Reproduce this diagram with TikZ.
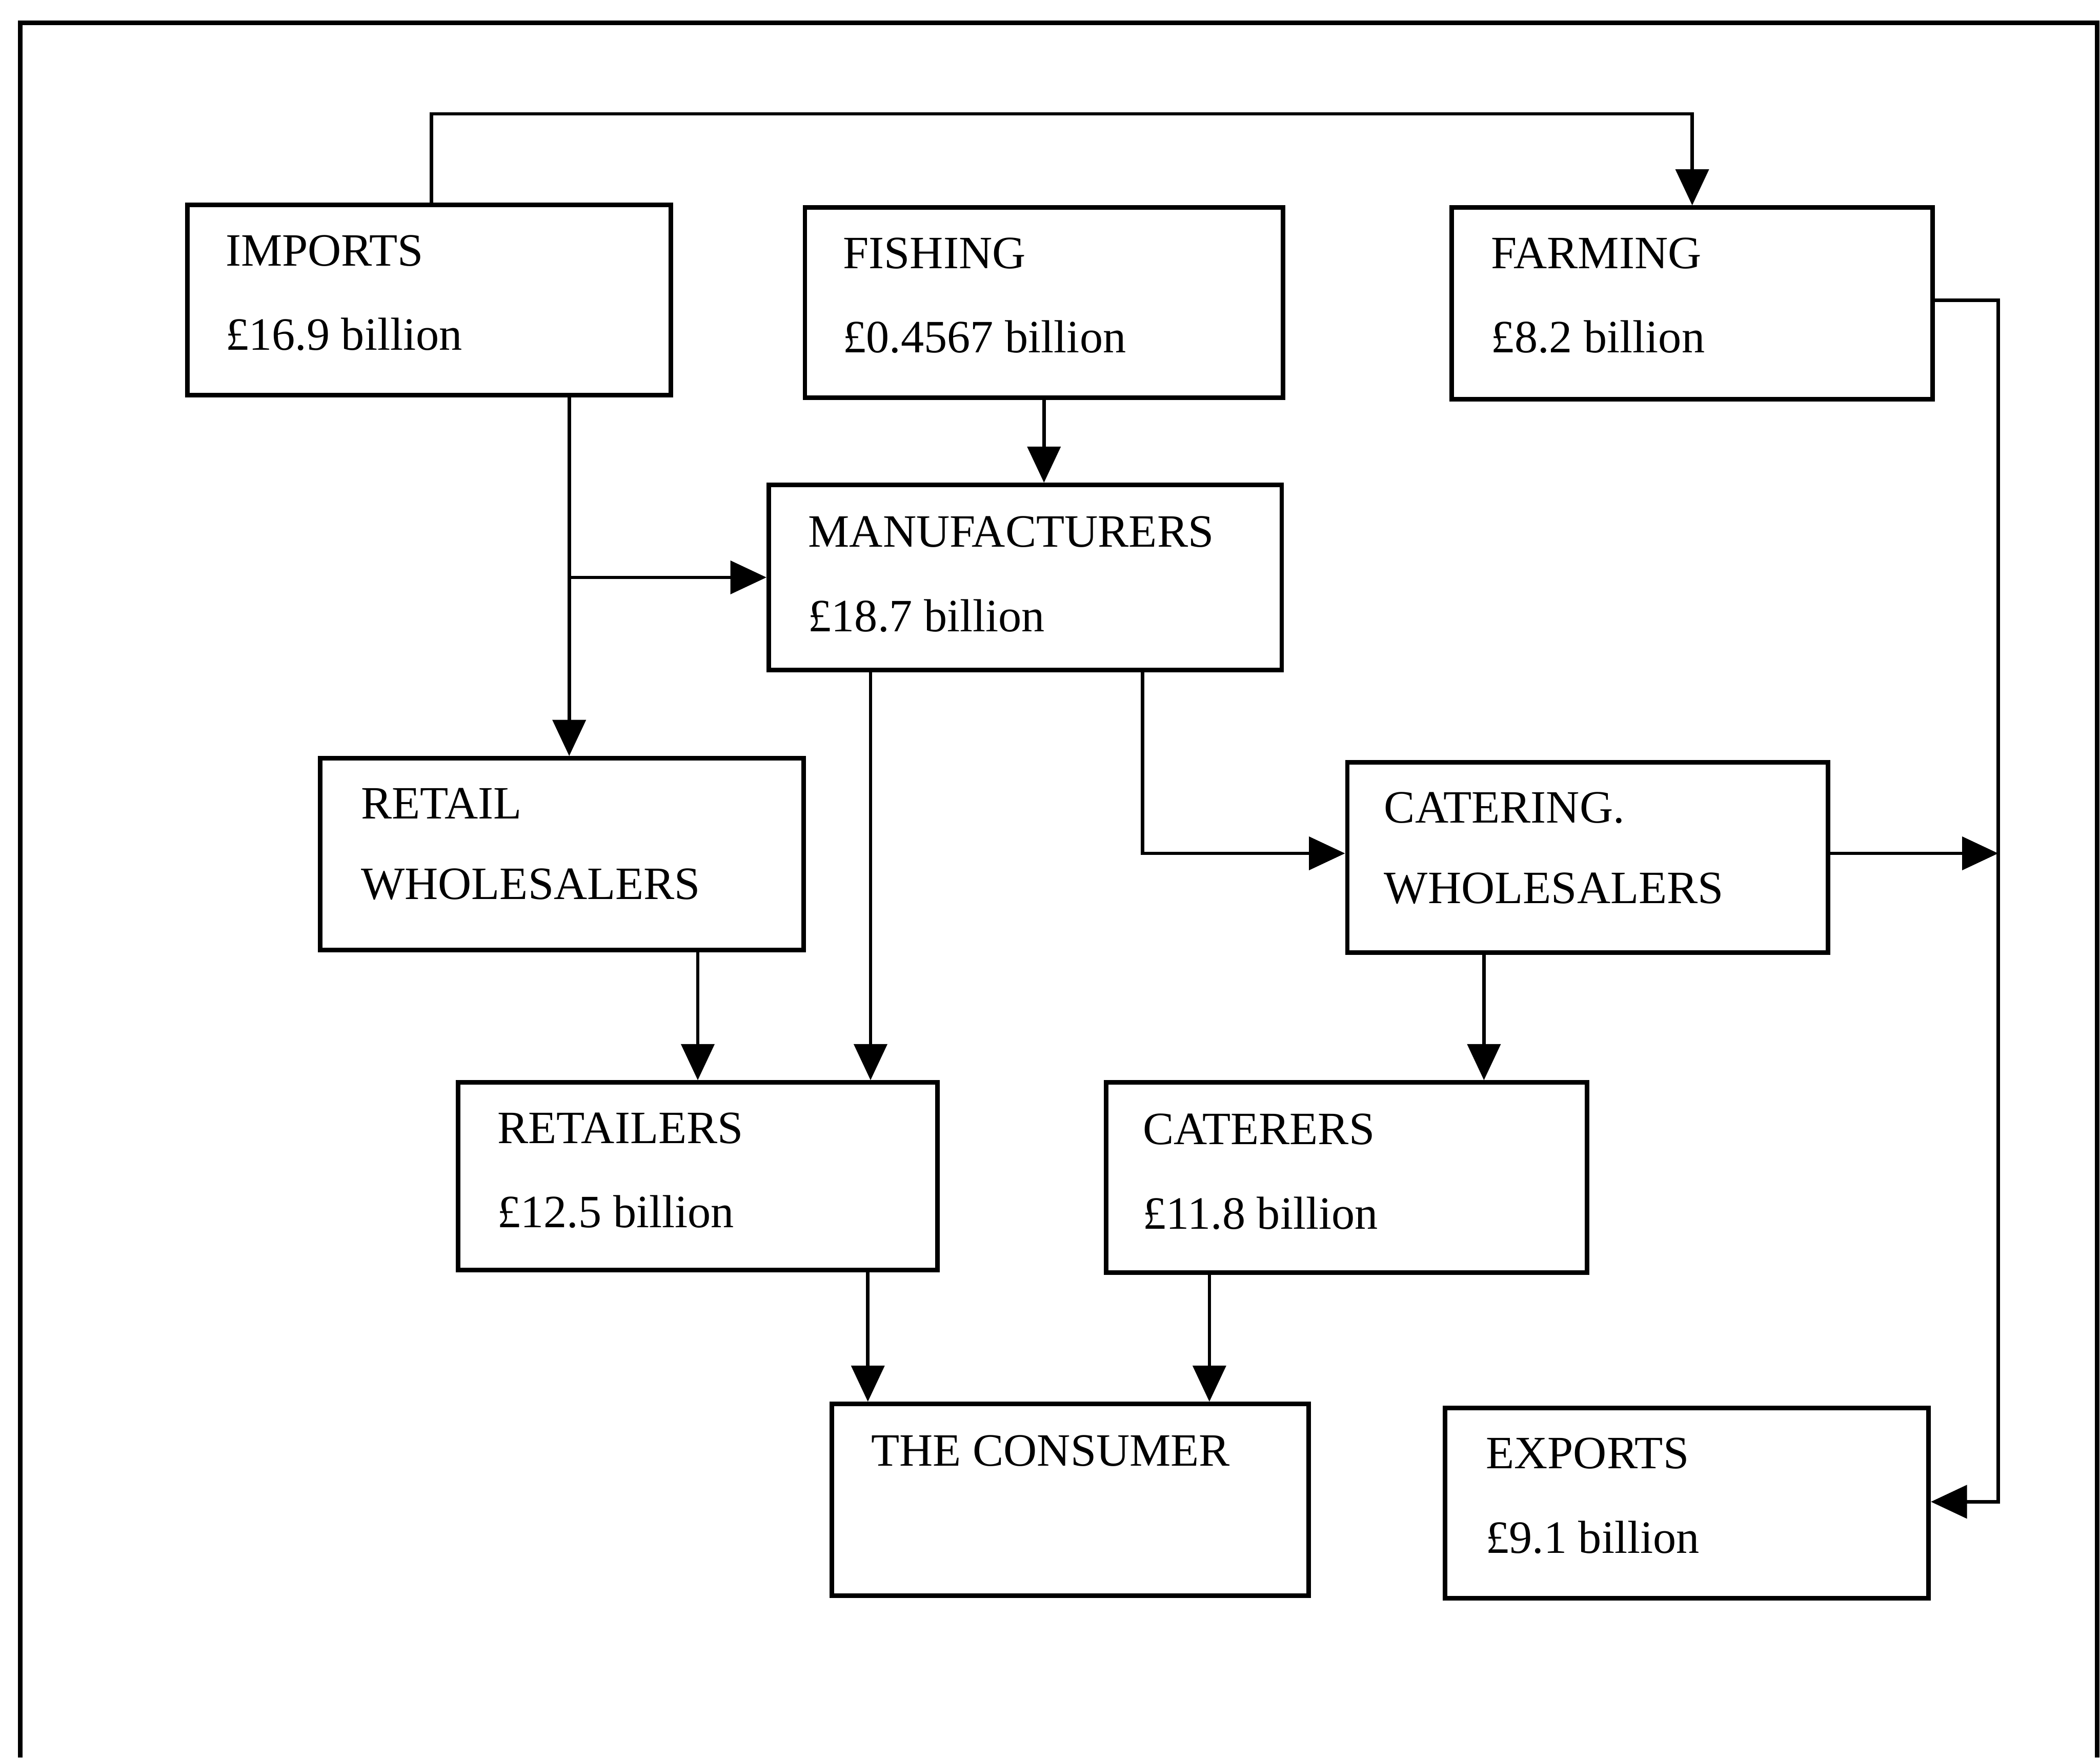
\documentclass[tikz,border=0pt]{standalone}
\usepackage{fontspec}
\setmainfont{Liberation Serif}
\usetikzlibrary{arrows.meta,calc,fit}
\tikzset{
  box/.style={draw, line width=2.9pt, inner sep=0pt, rectangle},
  lbl/.style={anchor=base west, inner sep=0pt, font=\fontsize{29.5}{35}\selectfont},
  conn/.style={line width=2.2pt},
  arr/.style={conn, -{Triangle[length=23pt, width=21pt]}},
  frameline/.style={line width=2.9pt}
}
\newcommand\flowbox[5]{%
  \coordinate (#1-a) at (#2,#3);
  \coordinate (#1-b) at (#4,#5);
  \node[box, fit=(#1-a)(#1-b)] (#1) {};}
\begin{document}
\begin{tikzpicture}[x=0.03cm, y=-0.03cm]
\useasboundingbox (0,0) rectangle (1568,1312);
% frame (open at bottom)
\coordinate (fbl) at (15,1312);
\coordinate (ftl) at (15,17);
\coordinate (ftr) at (1566,17);
\coordinate (fbr) at (1566,1312);
\draw[frameline] (fbl) -- (ftl) -- (ftr) -- (fbr);

% boxes
\flowbox{imp}{140}{153}{501}{295}
\flowbox{fish}{601}{155}{958}{297}
\flowbox{farm}{1084}{155}{1443}{298}
\flowbox{man}{574}{362}{957}{500}
\flowbox{rw}{239}{566}{600}{709}
\flowbox{cw}{1006}{569}{1365}{711}
\flowbox{ret}{342}{808}{700}{948}
\flowbox{cat}{826}{808}{1185}{950}
\flowbox{con}{621}{1048}{977}{1191}
\flowbox{exp}{1079}{1051}{1440}{1193}

% labels
\node[lbl] (imp-t1) at ($(imp.north west)+(30,47)$) {IMPORTS};
\node[lbl] (imp-t2) at ($(imp.north west)+(30,110)$) {£16.9 billion};
\node[lbl] (fish-t1) at ($(fish.north west)+(30,47)$) {FISHING};
\node[lbl] (fish-t2) at ($(fish.north west)+(30,110)$) {£0.4567 billion};
\node[lbl] (farm-t1) at ($(farm.north west)+(31,47)$) {FARMING};
\node[lbl] (farm-t2) at ($(farm.north west)+(31,110)$) {£8.2 billion};
\node[lbl] (man-t1) at ($(man.north west)+(31,48)$) {MANUFACTURERS};
\node[lbl] (man-t2) at ($(man.north west)+(31,111)$) {£18.7 billion};
\node[lbl] (rw-t1) at ($(rw.north west)+(32,47)$) {RETAIL};
\node[lbl] (rw-t2) at ($(rw.north west)+(32,107)$) {WHOLESALERS};
\node[lbl] (cw-t1) at ($(cw.north west)+(29,47)$) {CATERING.};
\node[lbl] (cw-t2) at ($(cw.north west)+(29,107)$) {WHOLESALERS};
\node[lbl] (ret-t1) at ($(ret.north west)+(31,47)$) {RETAILERS};
\node[lbl] (ret-t2) at ($(ret.north west)+(31,110)$) {£12.5 billion};
\node[lbl] (cat-t1) at ($(cat.north west)+(29,48)$) {CATERERS};
\node[lbl] (cat-t2) at ($(cat.north west)+(29,111)$) {£11.8 billion};
\node[lbl] (con-t1) at ($(con.north west)+(31,48)$) {THE CONSUMER};
\node[lbl] (exp-t1) at ($(exp.north west)+(32,47)$) {EXPORTS};
\node[lbl] (exp-t2) at ($(exp.north west)+(32,110)$) {£9.1 billion};

% routing coordinates
\coordinate (topy) at (322,85);
\coordinate (v1) at (425,431);
\coordinate (v2) at (650,0);
\coordinate (v3) at (853,637);
\coordinate (rx) at (1492,0);
\coordinate (v4) at (1108,0);
\coordinate (v5) at (648,0);
\coordinate (v6) at (903,0);

% connectors
\draw[arr] (imp.north -| topy) -- (topy) -| (farm.north);
\draw[conn] (imp.south -| v1) -- (v1);
\draw[arr] (v1) -- (rw.north -| v1);
\draw[arr] (v1) -- (man.west |- v1);
\draw[arr] (fish.south) -- (fish.south |- man.north);
\draw[arr] (man.south -| v2) -- (ret.north -| v2);
\draw[arr] (man.south -| v3) -- (v3) -- (cw.west |- v3);
\draw[arr] (farm.east |- 0,224) -- (rx |- 0,224) -- (rx |- 0,1121) -- (exp.east |- 0,1121);
\draw[arr] (cw.east |- v3) -- (rx |- v3);
\draw[arr] (rw.south -| ret.north) -- (ret.north);
\draw[arr] (cw.south -| v4) -- (cat.north -| v4);
\draw[arr] (ret.south -| v5) -- (con.north -| v5);
\draw[arr] (cat.south -| v6) -- (con.north -| v6);
\end{tikzpicture}
\end{document}
